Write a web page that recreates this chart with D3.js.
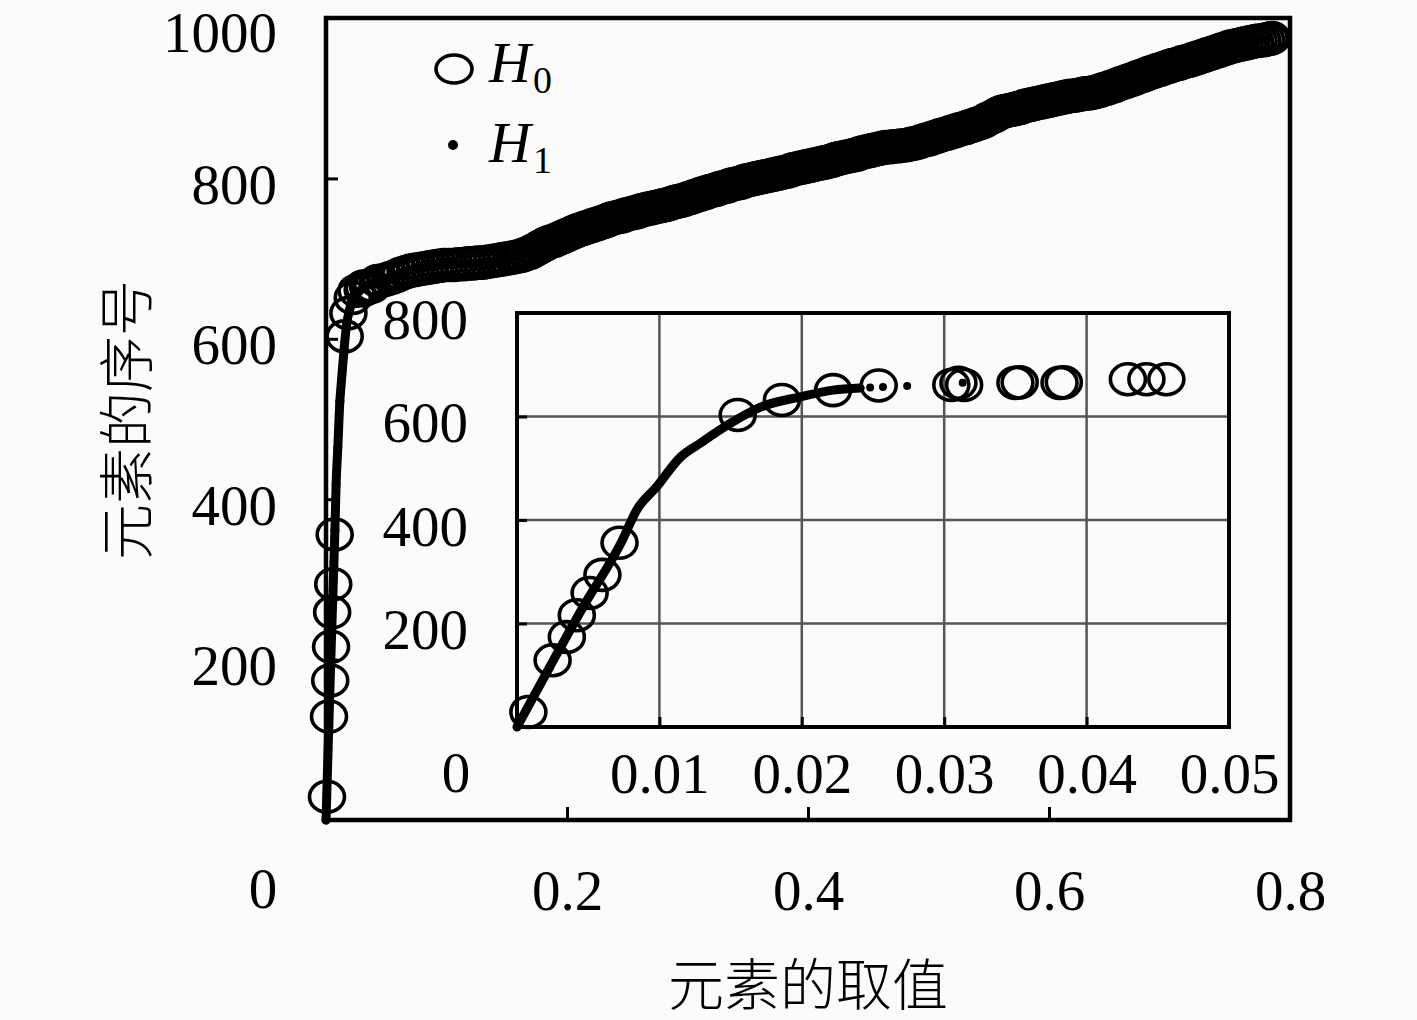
<!DOCTYPE html>
<html lang="zh">
<head>
<meta charset="UTF-8">
<title>元素的取值</title>
<script src="https://d3js.org/d3.v7.min.js"></script>
<style>
  body { margin: 0; background: #fbfbfb; }
  svg text { font-family: "Liberation Serif", "DejaVu Serif", serif; fill: #000; }
  svg text.cjk { font-family: "Noto Sans CJK SC", sans-serif; font-weight: 300; }
</style>
</head>
<body>
<script>
// ---- data: [value of element, index of element] ----
// H0 points below the knee (visible in both panels)
var h0Low = [
  [0.0008, 29], [0.0025, 129], [0.0035, 174], [0.0042, 216], [0.0051, 259],
  [0.0060, 294], [0.0072, 356], [0.0155, 603], [0.0186, 632], [0.0222, 651],
  [0.0254, 660], [0.0305, 661], [0.0310, 665], [0.0314, 661], [0.0350, 665],
  [0.0353, 666], [0.0381, 665], [0.0384, 666], [0.0429, 672], [0.0442, 672],
  [0.0456, 672]
];
// H0 points above the knee (main panel only)
var h0Band = [
  [0.050, 674], [0.054, 676], [0.058, 678], [0.062, 681], [0.066, 683], [0.070, 685],
  [0.074, 686], [0.078, 687], [0.082, 688], [0.086, 689], [0.090, 690], [0.094, 691],
  [0.098, 692], [0.102, 692], [0.106, 692], [0.110, 693], [0.114, 693], [0.118, 694],
  [0.122, 694], [0.126, 695], [0.130, 695], [0.134, 696], [0.138, 697], [0.142, 698],
  [0.146, 699], [0.150, 700], [0.154, 701], [0.157, 702], [0.160, 703], [0.163, 704],
  [0.166, 706], [0.169, 707], [0.172, 710], [0.175, 712], [0.178, 715], [0.181, 717],
  [0.183, 719], [0.186, 721], [0.189, 722], [0.192, 724], [0.195, 726], [0.198, 728],
  [0.201, 730], [0.204, 732], [0.207, 734], [0.210, 736], [0.213, 737], [0.216, 739],
  [0.219, 740], [0.222, 742], [0.225, 743], [0.228, 745], [0.231, 746], [0.234, 748],
  [0.237, 750], [0.240, 751], [0.243, 752], [0.246, 753], [0.249, 755], [0.252, 756],
  [0.255, 757], [0.258, 758], [0.261, 760], [0.264, 761], [0.267, 762], [0.270, 763],
  [0.273, 764], [0.276, 765], [0.279, 766], [0.282, 767], [0.285, 768], [0.288, 770],
  [0.291, 771], [0.294, 772], [0.297, 773], [0.300, 775], [0.303, 776], [0.306, 778],
  [0.309, 779], [0.312, 781], [0.315, 782], [0.318, 784], [0.321, 785], [0.324, 786],
  [0.327, 788], [0.330, 789], [0.333, 790], [0.336, 792], [0.339, 793], [0.342, 794],
  [0.345, 795], [0.348, 797], [0.351, 798], [0.354, 799], [0.357, 800], [0.360, 801],
  [0.363, 802], [0.366, 803], [0.369, 804], [0.372, 805], [0.375, 806], [0.378, 807],
  [0.381, 808], [0.384, 809], [0.387, 811], [0.390, 812], [0.393, 813], [0.396, 814],
  [0.399, 815], [0.402, 816], [0.405, 817], [0.408, 818], [0.411, 819], [0.414, 820],
  [0.417, 821], [0.420, 822], [0.423, 824], [0.426, 825], [0.429, 826], [0.432, 827],
  [0.435, 828], [0.438, 829], [0.441, 830], [0.444, 832], [0.447, 833], [0.450, 834],
  [0.453, 835], [0.456, 836], [0.459, 837], [0.462, 838], [0.465, 839], [0.468, 839],
  [0.471, 840], [0.474, 840], [0.477, 841], [0.480, 841], [0.483, 842], [0.486, 843],
  [0.489, 844], [0.492, 845], [0.495, 847], [0.498, 848], [0.501, 849], [0.504, 851],
  [0.507, 852], [0.510, 854], [0.513, 855], [0.516, 856], [0.519, 858], [0.522, 859],
  [0.525, 861], [0.528, 862], [0.531, 863], [0.534, 865], [0.537, 866], [0.540, 868],
  [0.543, 869], [0.546, 871], [0.549, 874], [0.552, 876], [0.555, 878], [0.558, 881],
  [0.561, 883], [0.564, 884], [0.567, 885], [0.570, 886], [0.573, 887], [0.576, 888],
  [0.579, 890], [0.582, 891], [0.585, 892], [0.588, 893], [0.591, 894], [0.594, 895],
  [0.597, 896], [0.600, 897], [0.603, 898], [0.606, 899], [0.609, 900], [0.612, 901],
  [0.615, 902], [0.618, 903], [0.621, 903], [0.624, 904], [0.627, 905], [0.630, 906],
  [0.633, 906], [0.636, 907], [0.639, 908], [0.642, 909], [0.645, 911], [0.648, 912],
  [0.651, 914], [0.654, 915], [0.657, 917], [0.660, 919], [0.663, 920], [0.666, 922],
  [0.669, 923], [0.672, 925], [0.675, 927], [0.678, 928], [0.681, 930], [0.684, 932],
  [0.687, 933], [0.690, 935], [0.693, 936], [0.696, 938], [0.699, 939], [0.702, 941],
  [0.705, 942], [0.708, 943], [0.711, 945], [0.714, 946], [0.717, 947], [0.720, 949],
  [0.723, 950], [0.726, 952], [0.729, 953], [0.732, 955], [0.735, 956], [0.738, 958],
  [0.741, 959], [0.744, 961], [0.747, 962], [0.750, 964], [0.753, 965], [0.756, 966],
  [0.759, 967], [0.762, 968], [0.765, 969], [0.768, 970], [0.771, 971], [0.774, 972],
  [0.777, 972], [0.780, 973], [0.783, 974], [0.785, 975]
];
// H1: dense run (drawn as a solid trace), a few loose dots, and the upper run
var h1Curve = [
  [0.0000, 0], [0.0023, 116], [0.0046, 230], [0.0074, 361], [0.0084, 419],
  [0.0098, 464], [0.0115, 522], [0.0129, 549], [0.0150, 587], [0.0171, 618],
  [0.0199, 638], [0.0222, 651], [0.0241, 655]
];
var h1Gap = [[0.0248, 656], [0.0257, 657], [0.0274, 659], [0.0313, 665]];
var h1Band = [
  [0.050, 674], [0.072, 686], [0.100, 692], [0.128, 695], [0.155, 701], [0.169, 707],
  [0.183, 719], [0.197, 727], [0.211, 736], [0.238, 750], [0.266, 762], [0.294, 772],
  [0.321, 785], [0.349, 797], [0.377, 807], [0.404, 817], [0.432, 827], [0.460, 838],
  [0.487, 843], [0.515, 856], [0.543, 869], [0.559, 882], [0.587, 893], [0.615, 902],
  [0.642, 909], [0.670, 924], [0.698, 939], [0.725, 951], [0.753, 965], [0.781, 974]
];

var mainXTicks = [0.2, 0.4, 0.6, 0.8];
var mainXLabels = ["0.2", "0.4", "0.6", "0.8"];
var mainYTicks = [200, 400, 600, 800, 1000];
var mainYLabels = ["200", "400", "600", "800", "1000"];
var insetXTicks = [0.01, 0.02, 0.03, 0.04, 0.05];
var insetXLabels = ["0.01", "0.02", "0.03", "0.04", "0.05"];
var insetYTicks = [200, 400, 600, 800];
var insetYLabels = ["200", "400", "600", "800"];
var xTitle = "元素的取值";
var yTitle = "元素的序号";
var legendNames = ["0", "1"];

var width = 1417, height = 1020;
var fontSize = 57;
var ringW = 3.6;

var svg = d3.select("body")
    .append("svg")
    .attr("width", width)
    .attr("height", height);

// main panel scales
var x = d3.scaleLinear().domain([0, 0.8]).range([326, 1290]);
var y = d3.scaleLinear().domain([0, 1000]).range([820, 18]);
// inset scales
var xi = d3.scaleLinear().domain([0, 0.05]).range([517, 1229]);
var yi = d3.scaleLinear().domain([0, 800]).range([727, 313]);

function styleAxis(g, dyEm) {
    g.select(".domain").remove();
    g.attr("font-size", fontSize);
    g.selectAll(".tick line").attr("stroke", "#000").attr("stroke-width", 3);
    if (dyEm) g.selectAll(".tick text").attr("dy", dyEm);
}

// ---------- main panel ----------
svg.append("g")
    .attr("transform", "translate(0,820)")
    .call(d3.axisBottom(x).tickValues(mainXTicks).tickSizeInner(-13).tickSizeOuter(0)
        .tickPadding(50).tickFormat(function (d, i) { return mainXLabels[i]; }))
    .call(styleAxis);

svg.append("g")
    .attr("transform", "translate(326,0)")
    .call(d3.axisLeft(y).tickValues(mainYTicks).tickSizeInner(-12).tickSizeOuter(0)
        .tickPadding(49).tickFormat(function (d, i) { return mainYLabels[i]; }))
    .call(function (g) {
        styleAxis(g, "0.44em");
        // keep the top label inside the page
        g.selectAll(".tick text").filter(function (d) { return d === 1000; }).attr("dy", "0.58em");
    });

// shared origin label
svg.append("text")
    .attr("x", x(0) - 63).attr("y", y(0) + 88)
    .attr("text-anchor", "middle")
    .attr("font-size", fontSize)
    .text("0");

svg.append("rect")
    .attr("x", x(0)).attr("y", y(1000))
    .attr("width", x(0.8) - x(0)).attr("height", y(0) - y(1000))
    .attr("fill", "none").attr("stroke", "#000").attr("stroke-width", 4.5);

var line = d3.line().curve(d3.curveMonotoneX)
    .x(function (d) { return x(d[0]); }).y(function (d) { return y(d[1]); });
var h1All = h1Curve.concat(h1Gap, h1Band);

svg.append("path")
    .datum(h1All)
    .attr("d", line)
    .attr("fill", "none").attr("stroke", "#000")
    .attr("stroke-width", 9).attr("stroke-linejoin", "round").attr("stroke-linecap", "round");

svg.append("g").selectAll("circle")
    .data(h1All).enter().append("circle")
    .attr("cx", function (d) { return x(d[0]); })
    .attr("cy", function (d) { return y(d[1]); })
    .attr("r", 4.5).attr("fill", "#000");

svg.append("g").selectAll("ellipse")
    .data(h0Low.concat(h0Band)).enter().append("ellipse")
    .attr("cx", function (d) { return x(d[0]); })
    .attr("cy", function (d) { return y(d[1]); })
    .attr("rx", 17.5).attr("ry", 15.5)
    .attr("fill", "none").attr("stroke", "#000").attr("stroke-width", ringW);

// legend
var legend = svg.append("g").attr("font-size", 58);
legend.append("ellipse")
    .attr("cx", 454).attr("cy", 69).attr("rx", 18).attr("ry", 14)
    .attr("fill", "none").attr("stroke", "#000").attr("stroke-width", 3.6);
legend.append("circle")
    .attr("cx", 453).attr("cy", 145).attr("r", 5).attr("fill", "#000");
legendNames.forEach(function (s, i) {
    var t = legend.append("text")
        .attr("x", 489).attr("y", 82 + i * 80);
    t.append("tspan").attr("font-style", "italic").text("H");
    t.append("tspan").attr("font-size", 38).attr("dx", 2).attr("dy", 11).text(s);
});

// axis titles
svg.append("text")
    .attr("class", "cjk")
    .attr("x", 808).attr("y", 980)
    .attr("text-anchor", "middle").attr("dominant-baseline", "central")
    .attr("font-size", 56)
    .text(xTitle);

svg.append("text")
    .attr("class", "cjk")
    .attr("transform", "translate(122,420) rotate(-90)")
    .attr("text-anchor", "middle").attr("dominant-baseline", "central")
    .attr("font-size", 56)
    .text(yTitle);

// ---------- inset ----------
var inset = svg.append("g");

inset.append("rect")
    .attr("x", xi(0)).attr("y", yi(800))
    .attr("width", xi(0.05) - xi(0)).attr("height", yi(0) - yi(800))
    .attr("fill", "#fbfbfb");

inset.append("g").selectAll("line.gx")
    .data(insetXTicks.slice(0, -1)).enter().append("line")
    .attr("x1", function (d) { return xi(d); }).attr("x2", function (d) { return xi(d); })
    .attr("y1", yi(0)).attr("y2", yi(800))
    .attr("stroke", "#555").attr("stroke-width", 2.5);

inset.append("g").selectAll("line.gy")
    .data(insetYTicks.slice(0, -1)).enter().append("line")
    .attr("x1", xi(0)).attr("x2", xi(0.05))
    .attr("y1", function (d) { return yi(d); }).attr("y2", function (d) { return yi(d); })
    .attr("stroke", "#555").attr("stroke-width", 2.5);

inset.append("g")
    .attr("transform", "translate(0,727)")
    .call(d3.axisBottom(xi).tickValues(insetXTicks).tickSizeInner(-10).tickSizeOuter(0)
        .tickPadding(26).tickFormat(function (d, i) { return insetXLabels[i]; }))
    .call(styleAxis);

inset.append("g")
    .attr("transform", "translate(517,0)")
    .call(d3.axisLeft(yi).tickValues(insetYTicks).tickSizeInner(-10).tickSizeOuter(0)
        .tickPadding(49).tickFormat(function (d, i) { return insetYLabels[i]; }))
    .call(function (g) { styleAxis(g, "0.44em"); });

inset.append("text")
    .attr("x", xi(0) - 61).attr("y", yi(0) + 65)
    .attr("text-anchor", "middle")
    .attr("font-size", fontSize)
    .text("0");

inset.append("rect")
    .attr("x", xi(0)).attr("y", yi(800))
    .attr("width", xi(0.05) - xi(0)).attr("height", yi(0) - yi(800))
    .attr("fill", "none").attr("stroke", "#000").attr("stroke-width", 4);

var lineI = d3.line().curve(d3.curveMonotoneX)
    .x(function (d) { return xi(d[0]); }).y(function (d) { return yi(d[1]); });

inset.append("path")
    .datum(h1Curve)
    .attr("d", lineI)
    .attr("fill", "none").attr("stroke", "#000")
    .attr("stroke-width", 9).attr("stroke-linejoin", "round").attr("stroke-linecap", "round");

inset.append("g").selectAll("circle")
    .data(h1Curve.concat(h1Gap)).enter().append("circle")
    .attr("cx", function (d) { return xi(d[0]); })
    .attr("cy", function (d) { return yi(d[1]); })
    .attr("r", 4).attr("fill", "#000");

inset.append("g").selectAll("ellipse")
    .data(h0Low.filter(function (d) { return d[0] <= 0.05 && d[1] <= 800; }))
    .enter().append("ellipse")
    .attr("cx", function (d) { return xi(d[0]); })
    .attr("cy", function (d) { return yi(d[1]); })
    .attr("rx", 17.5).attr("ry", 15.5)
    .attr("fill", "none").attr("stroke", "#000").attr("stroke-width", ringW);
</script>
</body>
</html>
